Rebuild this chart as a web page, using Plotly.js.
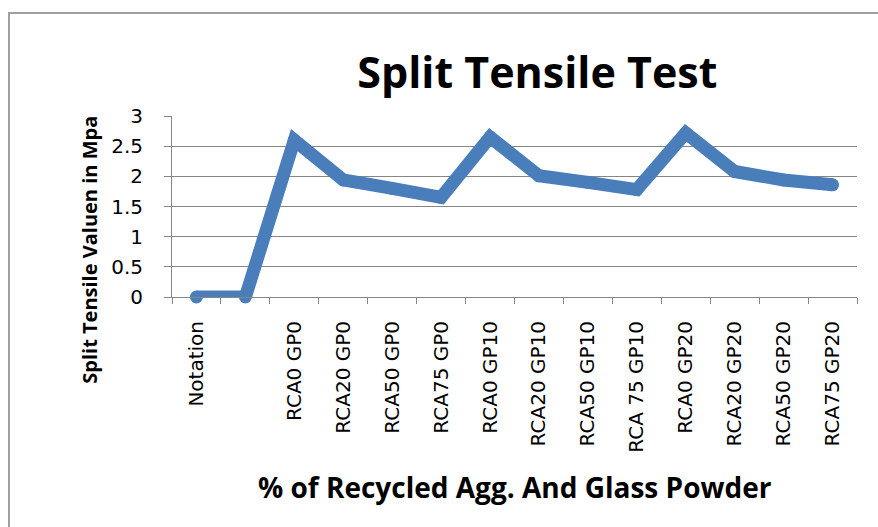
<!DOCTYPE html>
<html>
<head>
<meta charset="utf-8">
<script src="https://cdn.plot.ly/plotly-3.0.1.min.js"></script>
<style>
  html, body { margin: 0; padding: 0; background: #fff; overflow: hidden; }
  #wrap { position: relative; width: 878px; height: 527px; overflow: hidden; }
  #chart { width: 878px; height: 527px; }
  #frame { position: absolute; left: 8px; top: 12px; width: 900px; height: 600px;
           border-left: 2px solid #a0a0a0; border-top: 2px solid #a0a0a0;
           pointer-events: none; box-sizing: border-box; }
</style>
</head>
<body>
<div id="wrap">
  <div id="chart"></div>
  <div id="frame"></div>
</div>
<script>
const categories = ["Notation", " ", "RCA0 GP0", "RCA20 GP0", "RCA50 GP0", "RCA75 GP0",
  "RCA0 GP10", "RCA20 GP10", "RCA50 GP10", "RCA 75 GP10",
  "RCA0 GP20", "RCA20 GP20", "RCA50 GP20", "RCA75 GP20"];
const splitTensile = [0, 0, 2.6, 1.94, 1.8, 1.65, 2.65, 2.01, 1.9, 1.78, 2.72, 2.08, 1.94, 1.86];
const yTicks = [0, 0.5, 1, 1.5, 2, 2.5, 3];
const chartTitle = "Split Tensile Test";
const xTitle = "% of Recycled Agg. And Glass Powder";
const yTitle = "Split Tensile Valuen in Mpa";

const lineColor = "#4a7ebb";
const trace = {
  type: "scatter",
  mode: "lines+markers",
  x: categories,
  y: splitTensile,
  line: { color: lineColor, width: 13 },
  marker: { color: lineColor, size: 13, line: { width: 0 } },
  cliponaxis: false,
  hoverinfo: "x+y"
};

const boldFont = "'Open Sans', sans-serif";

const layout = {
  width: 878,
  height: 527,
  margin: { l: 172, r: 21, t: 116, b: 230 },
  paper_bgcolor: "#ffffff",
  plot_bgcolor: "#ffffff",
  showlegend: false,
  title: {
    text: chartTitle,
    font: { family: boldFont, size: 43, color: "#000", weight: 700 },
    x: 0.612, xref: "container", xanchor: "center",
    y: 0.862, yref: "container", yanchor: "middle"
  },
  xaxis: {
    type: "category",
    categoryorder: "array",
    categoryarray: categories,
    range: [-0.5, categories.length - 0.5],
    tickson: "boundaries",
    ticks: "outside",
    ticklen: 6,
    tickcolor: "#868686",
    tickwidth: 1,
    showline: true,
    linecolor: "#868686",
    linewidth: 1,
    showgrid: false,
    zeroline: false,
    tickangle: -90,
    ticklabelstandoff: 15,
    tickfont: { family: "DejaVu Sans", size: 20, color: "#000" },
    fixedrange: true
  },
  yaxis: {
    range: [0, 3],
    tickvals: yTicks,
    ticktext: yTicks.map(String),
    ticks: "outside",
    ticklen: 7,
    tickcolor: "#868686",
    tickwidth: 1,
    showline: true,
    linecolor: "#868686",
    linewidth: 1,
    showgrid: true,
    gridcolor: "#868686",
    gridwidth: 1,
    zeroline: false,
    ticklabelstandoff: 17,
    tickfont: { family: "DejaVu Sans", size: 20, color: "#000" },
    fixedrange: true
  },
  annotations: [
    {
      text: xTitle,
      xref: "paper", yref: "paper",
      x: 0.5, y: -1.05,
      xanchor: "center", yanchor: "middle",
      showarrow: false,
      font: { family: boldFont, size: 28, color: "#000", weight: 700 }
    },
    {
      text: yTitle,
      xref: "paper", yref: "paper",
      x: -0.12, y: 0.26,
      xanchor: "center", yanchor: "middle",
      textangle: -90,
      showarrow: false,
      font: { family: boldFont, size: 20, color: "#000", weight: 700 }
    }
  ]
};

Plotly.newPlot("chart", [trace], layout, { displayModeBar: false, staticPlot: true });
</script>
</body>
</html>
